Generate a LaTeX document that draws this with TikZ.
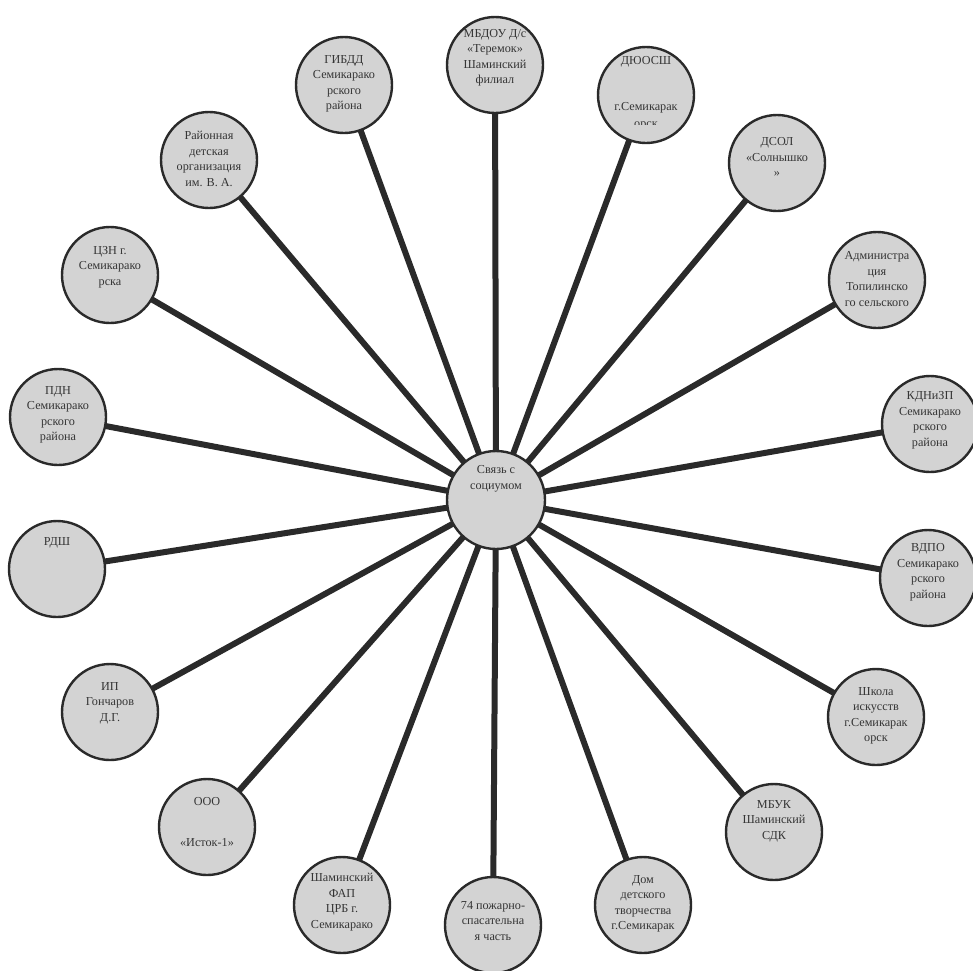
\documentclass[tikz,border=0pt]{standalone}
\usepackage{fontspec}
\setmainfont{Liberation Serif}
\usetikzlibrary{backgrounds}
\definecolor{bubfill}{HTML}{D3D3D3}
\definecolor{bubline}{HTML}{2A2A2A}
\definecolor{txtcol}{HTML}{353535}
\tikzset{
  bub/.style={circle, minimum size=96pt, inner sep=0pt, fill=bubfill, draw=bubline, line width=2.4pt},
  hub/.style={bub, minimum size=98pt},
  txt/.style={align=center, inner sep=0pt, text=txtcol, font=\fontsize{12.2}{15.5}\selectfont},
  conn/.style={draw=bubline, line width=6pt}
}
\begin{document}
\begin{tikzpicture}[x=1pt,y=-1pt]
\useasboundingbox (0,0) rectangle (973,970);
% hub
\node[hub] (c) at (496,500) {};
\node[txt] (tc) at (496,479) {Связь с\\социумом};
% outer bubbles
\node[bub] (n1) at (495,65) {};
\node[bub] (n2) at (646,95) {};
\node[bub] (n3) at (777,163) {};
\node[bub] (n4) at (877,280) {};
\node[bub] (n5) at (930,424) {};
\node[bub] (n6) at (928,578) {};
\node[bub] (n7) at (876,717) {};
\node[bub] (n8) at (774,832) {};
\node[bub] (n9) at (643,905) {};
\node[bub] (n10) at (493,925) {};
\node[bub] (n11) at (342,905) {};
\node[bub] (n12) at (207,827) {};
\node[bub] (n13) at (110,712) {};
\node[bub] (n14) at (57,569) {};
\node[bub] (n15) at (58,417) {};
\node[bub] (n16) at (110,275) {};
\node[bub] (n17) at (209,160) {};
\node[bub] (n18) at (344,85) {};
% connectors behind
\begin{pgfonlayer}{background}
\foreach \i in {1,...,18} {\draw[conn] (c.center) -- (n\i.center);}
\end{pgfonlayer}
% texts
\node[txt] (t1) at (495,58) {МБДОУ Д/с\\«Теремок»\\Шаминский\\филиал};
\node[txt] (t2) at (646,85) {ДЮОСШ\\[30pt]г.Семикарак};
\begin{scope}
\clip (600,117) rectangle (700,124);
\node[txt] (t2b) at (646,126) {орск};
\end{scope}
\node[txt] (t3) at (777,157) {ДСОЛ\\«Солнышко\\»};
\node[txt] (t4) at (877,279) {Администра\\ция\\Топилинско\\го сельского};
\node[txt] (t5) at (930,420) {КДНиЗП\\Семикарако\\рского\\района};
\node[txt] (t6) at (928,572) {ВДПО\\Семикарако\\рского\\района};
\node[txt] (t7) at (876,716) {Школа\\искусств\\г.Семикарак\\орск};
\node[txt] (t8) at (774,821) {МБУК\\Шаминский\\СДК};
\node[txt] (t9) at (643,904) {Дом\\детского\\творчества\\г.Семикарак};
\node[txt] (t10) at (493,921) {74 пожарно-\\спасательна\\я часть};
\node[txt] (t11) at (342,902) {Шаминский\\ФАП\\ЦРБ г.\\Семикарако};
\node[txt] (t12) at (207,822) {ООО\\[26pt]«Исток-1»};
\node[txt] (t13) at (110,703) {ИП\\Гончаров\\Д.Г.};
\node[txt] (t14) at (57,543) {РДШ};
\node[txt] (t15) at (58,415) {ПДН\\Семикарако\\рского\\района};
\node[txt] (t16) at (110,267) {ЦЗН г.\\Семикарако\\рска};
\node[txt] (t17) at (209,159) {Районная\\детская\\организация\\им. В. А.};
\node[txt] (t18) at (344,84) {ГИБДД\\Семикарако\\рского\\района};
\end{tikzpicture}
\end{document}
